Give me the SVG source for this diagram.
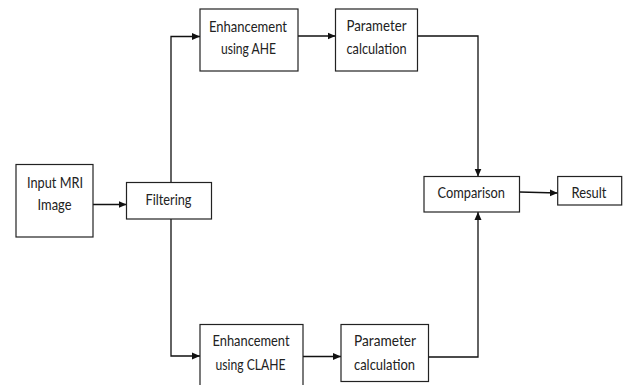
<svg xmlns="http://www.w3.org/2000/svg" width="624" height="385" viewBox="0 0 624 385">
<defs>
<marker id="ah" markerUnits="userSpaceOnUse" markerWidth="9" markerHeight="8" refX="8" refY="4" orient="auto">
<path d="M0,0.5 L8,4 L0,7.5 Z" fill="#111"/>
</marker>
<style>
.box{fill:#fff;stroke:#222;stroke-width:1.2}
.t{font-family:Lato,"Liberation Sans",sans-serif;font-size:16px;fill:#222}
.c{fill:none;stroke:#111;stroke-width:1.3;marker-end:url(#ah)}
</style>
</defs>
<rect width="624" height="385" fill="#fff"/>
<g id="connectors">
<path class="c" d="M93,204.5 H126.5"/>
<path class="c" d="M171,182.5 V36.5 H200"/>
<path class="c" d="M171,219 V356 H200"/>
<path class="c" d="M298,36 H335.5"/>
<path class="c" d="M417,36 H478 V176.5"/>
<path class="c" d="M303,356.5 H341"/>
<path class="c" d="M428.5,357 H478 V212"/>
<path class="c" d="M519.5,192 L557.7,193"/>
</g>
<g id="input">
<rect class="box" x="16" y="164.5" width="77" height="72.5"/>
<text class="t" x="27" y="187.5" textLength="56" lengthAdjust="spacingAndGlyphs">Input MRI</text>
<text class="t" x="37.5" y="209.5" textLength="34" lengthAdjust="spacingAndGlyphs">Image</text>
</g>
<g id="filtering">
<rect class="box" x="126.5" y="182.5" width="85" height="36.5"/>
<text class="t" x="145.5" y="204.5" textLength="46" lengthAdjust="spacingAndGlyphs">Filtering</text>
</g>
<g id="ahe">
<rect class="box" x="200" y="9" width="98" height="62"/>
<text class="t" x="209" y="31.5" textLength="78" lengthAdjust="spacingAndGlyphs">Enhancement</text>
<text class="t" x="221" y="53.5" textLength="55" lengthAdjust="spacingAndGlyphs">using AHE</text>
</g>
<g id="param-top">
<rect class="box" x="335.5" y="9" width="82" height="62"/>
<text class="t" x="346.5" y="31" textLength="60" lengthAdjust="spacingAndGlyphs">Parameter</text>
<text class="t" x="346.5" y="54" textLength="60" lengthAdjust="spacingAndGlyphs">calculation</text>
</g>
<g id="clahe">
<rect class="box" x="200" y="324.5" width="103" height="70"/>
<text class="t" x="212.5" y="346" textLength="77" lengthAdjust="spacingAndGlyphs">Enhancement</text>
<text class="t" x="215.5" y="370" textLength="70" lengthAdjust="spacingAndGlyphs">using CLAHE</text>
</g>
<g id="param-bottom">
<rect class="box" x="341" y="324.5" width="87.5" height="57"/>
<text class="t" x="354" y="346" textLength="62" lengthAdjust="spacingAndGlyphs">Parameter</text>
<text class="t" x="354" y="370" textLength="61" lengthAdjust="spacingAndGlyphs">calculation</text>
</g>
<g id="comparison">
<rect class="box" x="424" y="176.5" width="95.5" height="35.5"/>
<text class="t" x="437.5" y="197.5" textLength="67.5" lengthAdjust="spacingAndGlyphs">Comparison</text>
</g>
<g id="result">
<rect class="box" x="557.7" y="176.5" width="64" height="28.5"/>
<text class="t" x="571.5" y="197.5" textLength="35" lengthAdjust="spacingAndGlyphs">Result</text>
</g>
</svg>
